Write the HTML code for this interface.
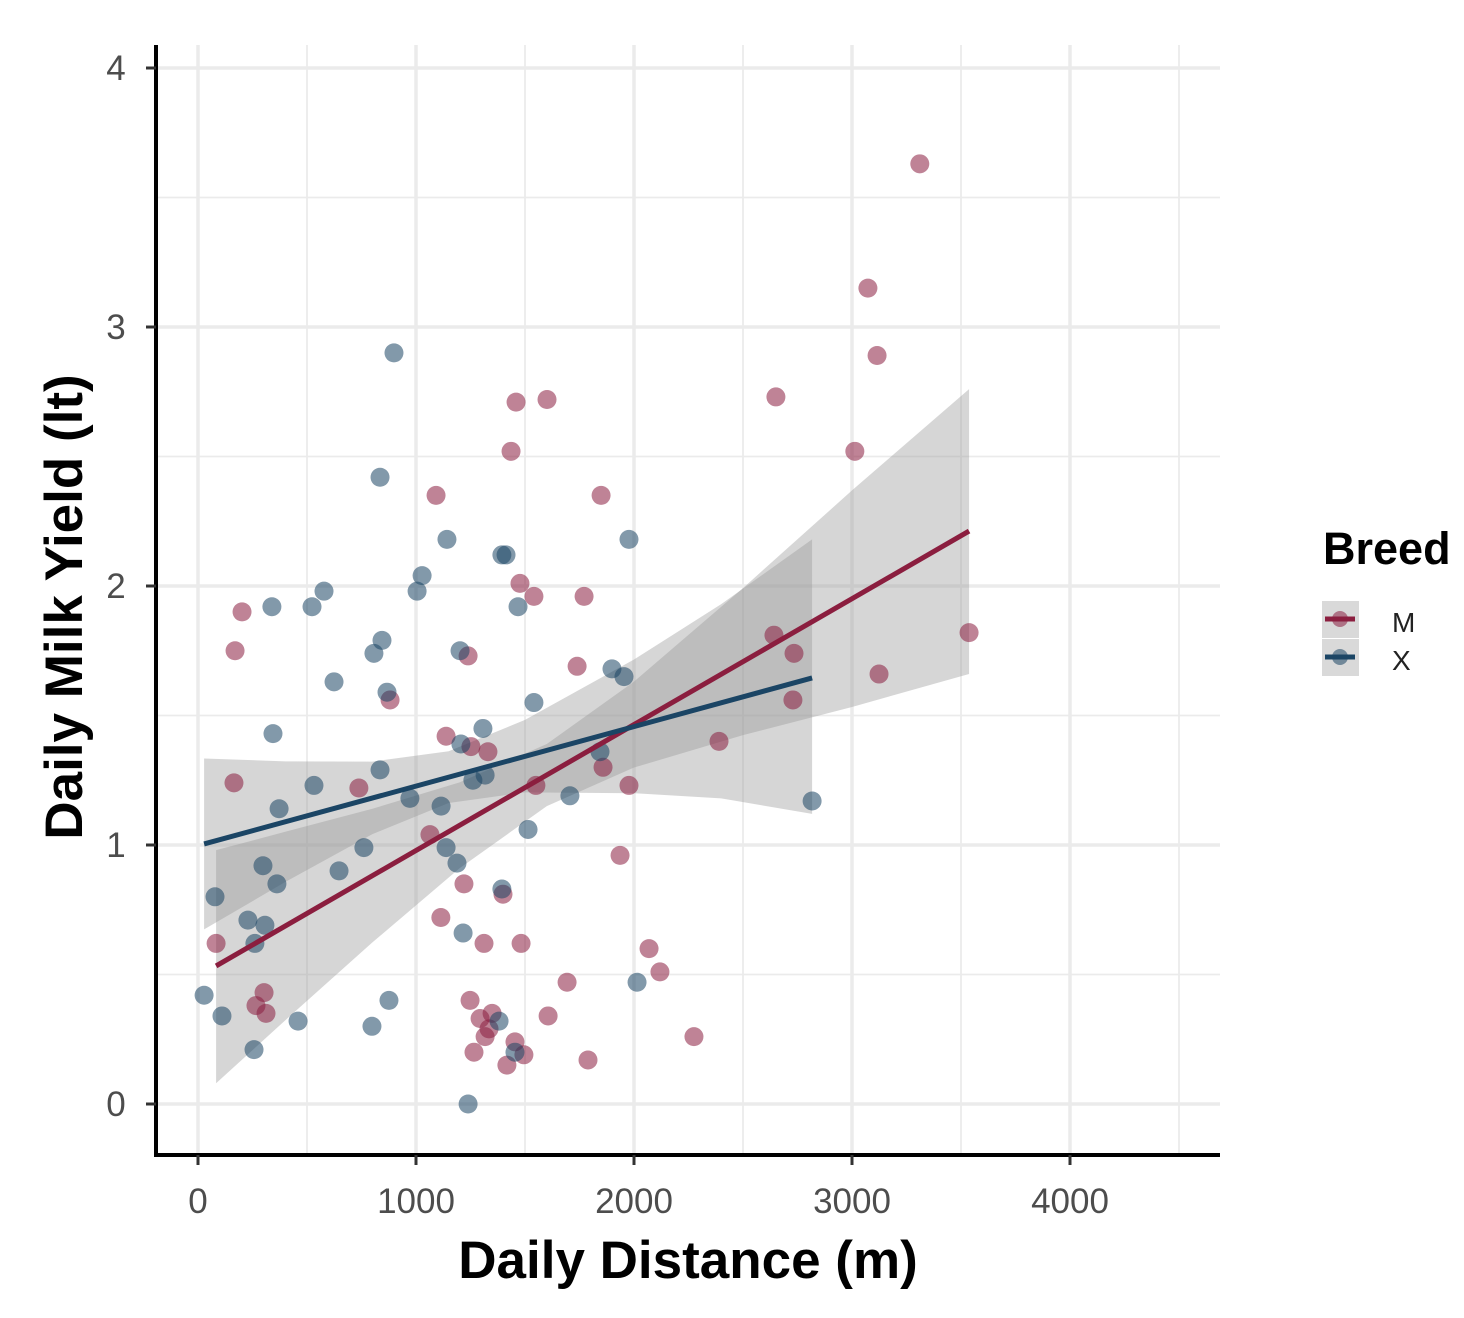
<!DOCTYPE html>
<html><head><meta charset="utf-8"><style>
body{margin:0;background:#fff;}
svg text{font-family:"Liberation Sans",Arial,sans-serif;}
</style></head><body>
<svg id="chart" width="1464" height="1313" viewBox="0 0 1464 1313" xmlns="http://www.w3.org/2000/svg">
<g id="grid"></g>
<g id="ribbons"></g>
<g id="points"></g>
<g id="lines"></g>
<g id="axes"></g>
<text x="688" y="1278" text-anchor="middle" font-size="53" font-weight="bold">Daily Distance (m)</text>
<text transform="translate(82,607) rotate(-90)" text-anchor="middle" font-size="53" font-weight="bold">Daily Milk Yield (lt)</text>
<g>
<text x="1323" y="564" font-size="45" font-weight="bold">Breed</text>
<rect x="1322" y="601" width="37" height="37" fill="#d9d9d9"/>
<rect x="1322" y="639" width="37" height="37" fill="#d9d9d9"/>
<circle cx="1340" cy="619" r="8" fill="#8b1e3f" fill-opacity="0.55"/>
<line x1="1325" y1="619" x2="1355" y2="619" stroke="#8b1e3f" stroke-width="5"/>
<circle cx="1340" cy="657" r="8" fill="#1b4565" fill-opacity="0.55"/>
<line x1="1325" y1="657" x2="1355" y2="657" stroke="#1b4565" stroke-width="5"/>
<text x="1392" y="632" font-size="28" fill="#222">M</text>
<text x="1392" y="670" font-size="28" fill="#222">X</text>
</g>
</svg>
<script>
const xTicks=[0,1000,2000,3000,4000];
const yTicks=[0,1,2,3,4];
const mX=[3311,3073,3115,2651,3013,1459,1601,1436,1092,1849,1477,1541,1771,202,170,2642,1739,1239,2734,881,3124,3537,2729,1138,2390,165,738,1252,1330,1550,1858,1977,1064,1936,1220,1399,1114,83,1312,1482,2069,2119,1693,303,266,312,1248,1294,1349,1335,1317,1454,1266,1495,1417,1789,1606,2275];
const mY=[3.63,3.15,2.89,2.73,2.52,2.71,2.72,2.52,2.35,2.35,2.01,1.96,1.96,1.90,1.75,1.81,1.69,1.73,1.74,1.56,1.66,1.82,1.56,1.42,1.40,1.24,1.22,1.38,1.36,1.23,1.30,1.23,1.04,0.96,0.85,0.81,0.72,0.62,0.62,0.62,0.60,0.51,0.47,0.43,0.38,0.35,0.40,0.33,0.35,0.29,0.26,0.24,0.20,0.19,0.15,0.17,0.34,0.26];
const xX=[899,835,1977,1142,1394,1413,1028,1005,578,339,523,1468,844,807,1202,624,867,1899,1954,1541,1307,344,1206,532,835,972,372,1115,1317,1261,1706,1844,1514,2817,761,1138,647,298,362,1188,78,229,307,261,1216,1394,2014,876,28,110,459,798,1381,257,1454,1239];
const xY=[2.90,2.42,2.18,2.18,2.12,2.12,2.04,1.98,1.98,1.92,1.92,1.92,1.79,1.74,1.75,1.63,1.59,1.68,1.65,1.55,1.45,1.43,1.39,1.23,1.29,1.18,1.14,1.15,1.27,1.25,1.19,1.36,1.06,1.17,0.99,0.99,0.90,0.92,0.85,0.93,0.80,0.71,0.69,0.62,0.66,0.83,0.47,0.40,0.42,0.34,0.32,0.30,0.32,0.21,0.20,0.00];
const mLine=[[83,0.533],[3537,2.212]];
const xLine=[[28,1.004],[2817,1.645]];
const mRibX=[83,400,800,1200,1600,2000,2500,3000,3537];
const mRibLo=[0.08,0.323,0.624,0.91,1.15,1.299,1.424,1.533,1.66];
const mRibHi=[0.98,1.051,1.14,1.242,1.39,1.631,1.992,2.369,2.76];
const xRibX=[28,400,800,1150,1500,2000,2400,2817];
const xRibLo=[0.674,0.857,1.042,1.162,1.203,1.2,1.18,1.12];
const xRibHi=[1.334,1.323,1.322,1.362,1.483,1.716,1.93,2.18];

const X=v=>198+v*0.218, Y=v=>1104-v*259;
const NS='http://www.w3.org/2000/svg';
function mk(tag,attrs,parent){const e=document.createElementNS(NS,tag);for(const k in attrs)e.setAttribute(k,attrs[k]);parent.appendChild(e);return e;}
const grid=document.getElementById('grid');
const L=156,R=1220,T=45,B=1155;
for(let v=-500;v<=4500;v+=500){if(X(v)<L||X(v)>R)continue;const major=v%1000===0;
 const g=mk('line',{x1:X(v),x2:X(v),y1:T,y2:B,stroke:'#ebebeb','stroke-width':major?3.5:1.8},grid);
 }
for(let v=0;v<=4;v+=0.5){const major=v%1===0;
 const g=mk('line',{x1:L,x2:R,y1:Y(v),y2:Y(v),stroke:'#ebebeb','stroke-width':major?3.5:1.8},grid);
 }
const rib=document.getElementById('ribbons');
function ribbon(xs,lo,hi,name){let d='M'+xs.map((x,i)=>X(x)+','+Y(hi[i])).join('L');
 for(let i=xs.length-1;i>=0;i--)d+='L'+X(xs[i])+','+Y(lo[i]);d+='Z';
 const p=mk('path',{d:d,fill:'#999','fill-opacity':0.4},rib);
 }
ribbon(mRibX,mRibLo,mRibHi,'ribbon-m');ribbon(xRibX,xRibLo,xRibHi,'ribbon-x');
const pts=document.getElementById('points');
function dots(xs,ys,c,name){xs.forEach((x,i)=>{const p=mk('circle',{cx:X(x),cy:Y(ys[i]),r:9.5,fill:c,'fill-opacity':0.55},pts);
 });}
dots(mX,mY,'#8b1e3f','point-m');dots(xX,xY,'#1b4565','point-x');
const ln=document.getElementById('lines');
function line(p,c,name){const l=mk('line',{x1:X(p[0][0]),y1:Y(p[0][1]),x2:X(p[1][0]),y2:Y(p[1][1]),stroke:c,'stroke-width':5},ln);
 }
line(mLine,'#8b1e3f','trend-line-m');line(xLine,'#1b4565','trend-line-x');
const ax=document.getElementById('axes');
const a1=mk('line',{x1:L,x2:L,y1:T,y2:B+2,stroke:'#000','stroke-width':4},ax);

const a2=mk('line',{x1:L-2,x2:R,y1:B,y2:B,stroke:'#000','stroke-width':4},ax);

xTicks.forEach(v=>{mk('line',{x1:X(v),x2:X(v),y1:B,y2:B+10,stroke:'#333','stroke-width':3},ax);
 const t=mk('text',{x:X(v),y:B+58,'text-anchor':'middle','font-size':35,fill:'#4d4d4d'},ax);t.textContent=v;
 });
yTicks.forEach(v=>{mk('line',{x1:L-10,x2:L,y1:Y(v),y2:Y(v),stroke:'#333','stroke-width':3},ax);
 const t=mk('text',{x:L-40,y:Y(v)+12,'text-anchor':'middle','font-size':35,fill:'#4d4d4d'},ax);t.textContent=v;
 });
</script>
</body></html>
